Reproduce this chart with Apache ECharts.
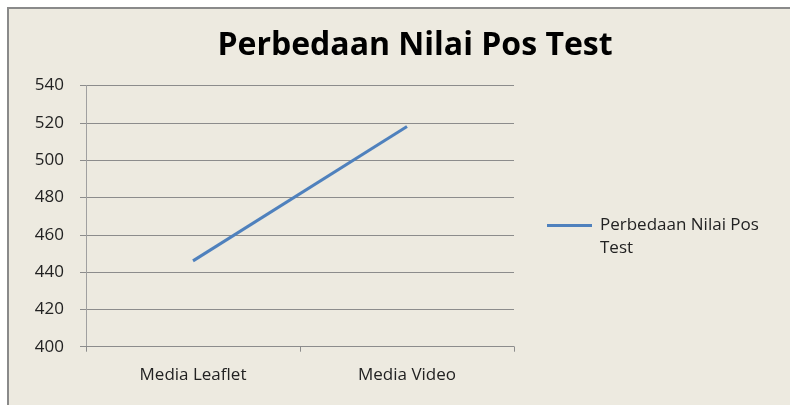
<!DOCTYPE html>
<html>
<head>
<meta charset="utf-8">
<script src="https://cdn.jsdelivr.net/npm/echarts@6/dist/echarts.min.js"></script>
<style>
  html, body { margin: 0; padding: 0; background: #fff; }
  #frame {
    position: absolute; left: 7px; top: 7px; width: 783px; height: 398px;
    background: #edeae0; border-left: 2px solid #8a8a8a; border-top: 2px solid #8a8a8a;
    box-sizing: border-box;
  }
  #main { position: absolute; left: 0; top: 0; width: 790px; height: 405px; }
</style>
</head>
<body>
<div id="frame"></div>
<div id="main"></div>
<script>
// data
var categories = ['Media Leaflet', 'Media Video'];
var seriesName = 'Perbedaan Nilai Pos Test';
var values = [446, 518];
var yMin = 400, yMax = 540, yStep = 20;

var chart = echarts.init(document.getElementById('main'));
var font = '"Open Sans", sans-serif';

var option = {
  backgroundColor: 'transparent',
  title: {
    text: 'Perbedaan Nilai Pos Test',
    left: 410,
    top: 25,
    textAlign: 'center',
    textStyle: { fontFamily: font, fontSize: 32, fontWeight: 'bold', color: '#000' }
  },
  legend: {
    left: 542,
    top: 209,
    orient: 'vertical',
    // line sits at the top of a taller box so it lines up with the first text row
    icon: 'path://M0,0L45,0L45,3L0,3ZM0,26L45,26',
    itemWidth: 45,
    itemHeight: 26,
    data: [seriesName],
    formatter: function () { return 'Perbedaan Nilai Pos\nTest'; },
    textStyle: { fontFamily: font, fontSize: 17, color: '#222', lineHeight: 23, padding: [0, 0, 0, 3] }
  },
  grid: { left: 86, right: 276, top: 85.5, bottom: 58.3 },
  xAxis: {
    type: 'category',
    data: categories,
    boundaryGap: true,
    axisLine: { lineStyle: { color: '#8c8c8c', width: 1 } },
    axisTick: { show: true, length: 5, lineStyle: { color: '#8c8c8c' } },
    axisLabel: { fontFamily: font, fontSize: 17, color: '#222', margin: 20 }
  },
  yAxis: {
    type: 'value',
    min: yMin,
    max: yMax,
    interval: yStep,
    axisLine: { show: true, lineStyle: { color: '#a0a0a0', width: 1 } },
    axisTick: { show: true, length: 6, lineStyle: { color: '#8c8c8c' } },
    axisLabel: { fontFamily: font, fontSize: 17, color: '#222', margin: 22 },
    splitLine: { lineStyle: { color: '#8c8c8c', width: 1 } }
  },
  series: [{
    name: seriesName,
    type: 'line',
    data: values,
    showSymbol: false,
    symbol: 'none',
    lineStyle: { color: '#4f81bd', width: 3 },
    itemStyle: { color: '#4f81bd' },
    animation: false
  }]
};
chart.setOption(option);
</script>
</body>
</html>
